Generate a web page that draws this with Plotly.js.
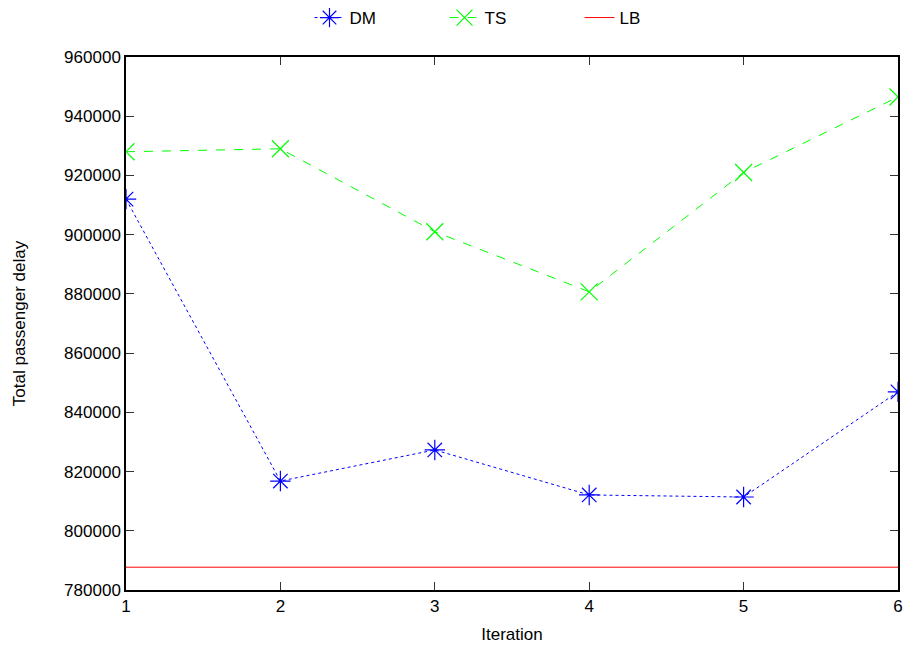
<!DOCTYPE html>
<html>
<head>
<meta charset="utf-8">
<script src="https://cdn.plot.ly/plotly-3.0.1.min.js"></script>
<style>html,body{margin:0;padding:0;background:#fff}#chart{width:906px;height:647px}</style>
</head>
<body>
<div id="chart"></div>
<script>
var iterations = [1, 2, 3, 4, 5, 6];
var dmValues = [912000, 816800, 827300, 812100, 811400, 846900];
var tsValues = [928000, 929000, 901000, 880700, 921000, 946500];
var lbValues = [787700, 787700, 787700, 787700, 787700, 787700];
var seriesNames = ['DM', 'TS', 'LB'];
var yTicks = [780000, 800000, 820000, 840000, 860000, 880000, 900000, 920000, 940000, 960000];

var font = 'Liberation Sans, Arial, sans-serif';
var fs = 17;
var traces = [
  {x: iterations, y: dmValues, name: seriesNames[0], type: 'scatter', mode: 'lines+markers',
   line: {color: '#0000ff', width: 1, dash: 'dot'},
   marker: {symbol: 'asterisk-open', size: 17, color: '#0000ff', line: {color: '#0000ff', width: 1.2}}},
  {x: iterations, y: tsValues, name: seriesNames[1], type: 'scatter', mode: 'lines+markers',
   line: {color: '#00ff00', width: 1, dash: 'dash'},
   marker: {symbol: 'x-thin-open', size: 17, color: '#00ff00', line: {color: '#00ff00', width: 1.2}}},
  {x: iterations, y: lbValues, name: seriesNames[2], type: 'scatter', mode: 'lines',
   line: {color: '#ff0000', width: 1}}
];
var layout = {
  width: 906, height: 647,
  margin: {l: 126, r: 8, t: 57, b: 57},
  paper_bgcolor: '#fff', plot_bgcolor: '#fff',
  font: {family: font, size: fs, color: '#000'},
  showlegend: true,
  legend: {orientation: 'h', x: 0.5, xanchor: 'center', y: 1.0, yanchor: 'top',
           yref: 'container', entrywidth: 90, font: {family: font, size: fs}},
  xaxis: {range: [1, 6], tickvals: iterations, ticks: 'inside', ticklen: 8, tickcolor: '#333',
          showline: true, linecolor: '#000', linewidth: 1.5, mirror: 'ticks', showgrid: false,
          zeroline: false, title: {text: 'Iteration', font: {size: fs}, standoff: 13}},
  yaxis: {range: [780000, 960000], tickvals: yTicks, tickformat: 'd', ticks: 'inside', ticklen: 8,
          tickcolor: '#333', showline: true, linecolor: '#000', linewidth: 1.5, mirror: 'ticks',
          showgrid: false, zeroline: false,
          title: {text: 'Total passenger delay', font: {size: fs}, standoff: 34}}
};
Plotly.newPlot('chart', traces, layout, {displayModeBar: false});
</script>
</body>
</html>
